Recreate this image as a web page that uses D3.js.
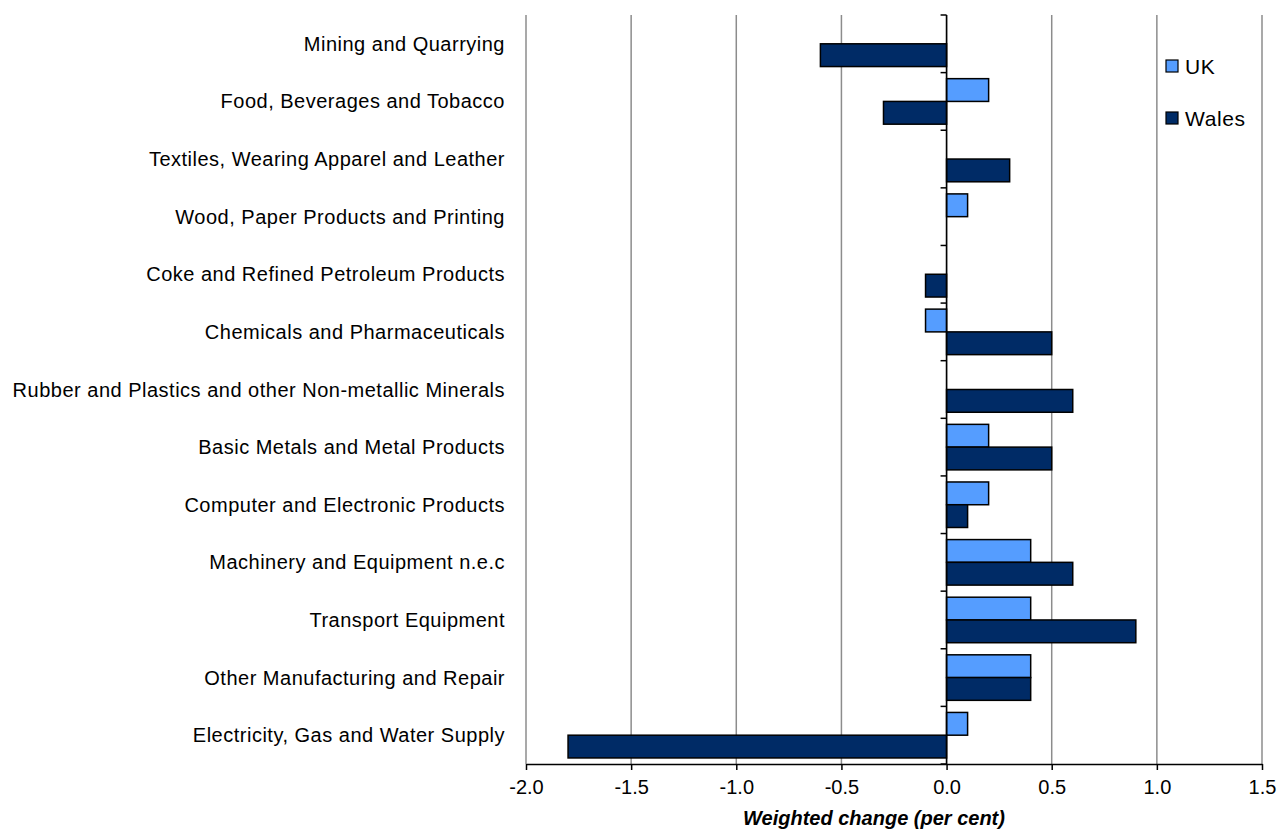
<!DOCTYPE html>
<html>
<head>
<meta charset="utf-8">
<script src="https://cdn.jsdelivr.net/npm/d3@7"></script>
<style>
  body { margin: 0; background: #fff; }
  svg { display: block; font-family: "Liberation Sans", Arial, sans-serif; }
</style>
</head>
<body>
<div id="chart"></div>
<script>
(function () {
  'use strict';

  var categories = [
    'Mining and Quarrying',
    'Food, Beverages and Tobacco',
    'Textiles, Wearing Apparel and Leather',
    'Wood, Paper Products and Printing',
    'Coke and Refined Petroleum Products',
    'Chemicals and Pharmaceuticals',
    'Rubber and Plastics and other Non-metallic Minerals',
    'Basic Metals and Metal Products',
    'Computer and Electronic Products',
    'Machinery and Equipment n.e.c',
    'Transport Equipment',
    'Other Manufacturing and Repair',
    'Electricity, Gas and Water Supply'
  ];
  var seriesNames = ['UK', 'Wales'];
  var ukValues = [0, 0.2, 0, 0.1, 0, -0.1, 0, 0.2, 0.2, 0.4, 0.4, 0.4, 0.1];
  var walesValues = [-0.6, -0.3, 0.3, 0, -0.1, 0.5, 0.6, 0.5, 0.1, 0.6, 0.9, 0.4, -1.8];
  var xTicks = [-2.0, -1.5, -1.0, -0.5, 0.0, 0.5, 1.0, 1.5];
  var colors = ['#559DFF', '#002B66'];

  var W = 1283, H = 832;
  var margin = { top: 15, right: 21, bottom: 68, left: 526 };
  var innerW = W - margin.left - margin.right;
  var innerH = H - margin.top - margin.bottom;

  var svg = d3.select('#chart').append('svg').attr('width', W).attr('height', H);
  var g = svg.append('g').attr('transform', 'translate(' + margin.left + ',' + margin.top + ')');

  var x = d3.scaleLinear().domain([-2, 1.5]).range([0, innerW]);
  var y0 = d3.scaleBand().domain(categories).range([0, innerH]).paddingInner(0.21).paddingOuter(0.105);
  var y1 = d3.scaleBand().domain(seriesNames).range([0, y0.bandwidth()]);

  // gridlines
  g.append('g').selectAll('line').data(xTicks).join('line')
    .attr('x1', function (d) { return x(d); }).attr('x2', function (d) { return x(d); })
    .attr('y1', 0).attr('y2', innerH)
    .attr('stroke', '#8c8c8c').attr('stroke-width', 1.5);

  var rows = categories.map(function (c, i) {
    return { cat: c, vals: [ukValues[i], walesValues[i]] };
  });

  var groups = g.append('g').selectAll('g').data(rows).join('g')
    .attr('transform', function (d) { return 'translate(0,' + y0(d.cat) + ')'; });
  groups.selectAll('rect')
    .data(function (d) { return d.vals.map(function (v, j) { return { s: seriesNames[j], v: v, j: j }; }).filter(function (e) { return e.v !== 0; }); })
    .join('rect')
    .attr('x', function (d) { return x(Math.min(0, d.v)); })
    .attr('width', function (d) { return Math.abs(x(d.v) - x(0)); })
    .attr('y', function (d) { return y1(d.s); })
    .attr('height', y1.bandwidth())
    .attr('fill', function (d) { return colors[d.j]; })
    .attr('stroke', '#000').attr('stroke-width', 1.5);

  // y axis at zero with category boundary ticks
  var step = innerH / categories.length;
  var yAx = g.append('g').attr('transform', 'translate(' + x(0) + ',0)');
  yAx.append('line').attr('y1', 0).attr('y2', innerH).attr('stroke', '#000').attr('stroke-width', 1.5);
  yAx.selectAll('.yt').data(d3.range(categories.length + 1)).join('line').attr('class', 'yt')
    .attr('x1', -6).attr('x2', 0)
    .attr('y1', function (i) { return i * step; }).attr('y2', function (i) { return i * step; })
    .attr('stroke', '#000').attr('stroke-width', 1.5);

  // category labels
  g.append('g').selectAll('text').data(categories).join('text')
    .attr('x', -21)
    .attr('y', function (d) { return y0(d) + y0.bandwidth() / 2; })
    .attr('dy', '0.35em')
    .attr('text-anchor', 'end')
    .attr('font-size', '20px')
    .attr('letter-spacing', '0.5px')
    .attr('fill', '#000')
    .text(function (d) { return d; });

  // x axis
  var xAxis = d3.axisBottom(x).tickValues(xTicks).tickFormat(d3.format('.1f')).tickSize(6).tickSizeOuter(0);
  var xg = g.append('g').attr('transform', 'translate(0,' + innerH + ')').call(xAxis);
  xg.select('.domain').attr('stroke', '#000').attr('stroke-width', 1.5);
  xg.selectAll('.tick line').attr('stroke', '#000').attr('stroke-width', 1.5);
  xg.selectAll('.tick text').attr('font-size', '20px').attr('fill', '#000').attr('dy', '1.05em')
    .attr('font-family', '"Liberation Sans", Arial, sans-serif')
    .text(function (d) { return d3.format('.1f')(d).replace('−', '-'); });

  svg.append('text')
    .attr('x', 874).attr('y', 825)
    .attr('text-anchor', 'middle')
    .attr('font-size', '20px')
    .attr('font-weight', 'bold').attr('font-style', 'italic')
    .text('Weighted change (per cent)');

  // legend
  var lg = svg.append('g').attr('transform', 'translate(1166,60)');
  seriesNames.forEach(function (s, i) {
    var row = lg.append('g').attr('transform', 'translate(0,' + (i * 52) + ')');
    row.append('rect').attr('width', 12).attr('height', 12)
      .attr('fill', colors[i]).attr('stroke', '#000').attr('stroke-width', 1.2);
    row.append('text').attr('x', 19).attr('y', 6).attr('dy', '0.36em')
      .attr('font-size', '21px').attr('letter-spacing', '0.6px').text(s);
  });
})();
</script>
</body>
</html>
